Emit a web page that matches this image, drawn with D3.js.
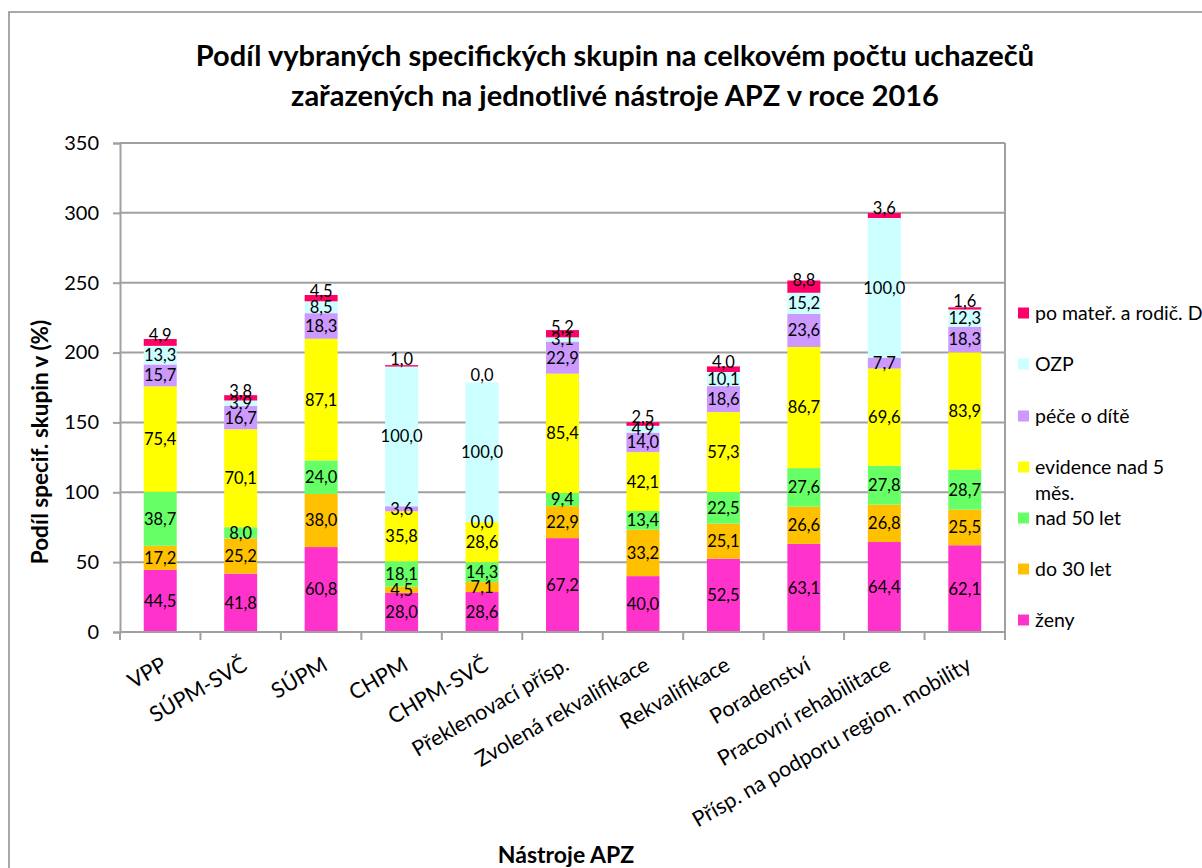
<!DOCTYPE html>
<html><head><meta charset="utf-8">
<script src="https://cdn.jsdelivr.net/npm/d3@7"></script>
<style>
html,body{margin:0;padding:0;background:#fff;}
svg{display:block;font-family:Lato,"Noto Sans",sans-serif;}
</style></head>
<body><svg id="c" width="1202" height="868"></svg>
<script>
const categories = ["VPP","SÚPM-SVČ","SÚPM","CHPM","CHPM-SVČ","Překlenovací přísp.","Zvolená rekvalifikace","Rekvalifikace","Poradenství","Pracovní rehabilitace","Přísp. na podporu region. mobility"];
const seriesNames = ["ženy","do 30 let","nad 50 let","evidence nad 5 měs.","péče o dítě","OZP","po mateř. a rodič. D"];
const zeny      = [44.5,41.8,60.8,28.0,28.6,67.2,40.0,52.5,63.1,64.4,62.1];
const do30      = [17.2,25.2,38.0,4.5,7.1,22.9,33.2,25.1,26.6,26.8,25.5];
const nad50     = [38.7,8.0,24.0,18.1,14.3,9.4,13.4,22.5,27.6,27.8,28.7];
const evidence  = [75.4,70.1,87.1,35.8,28.6,85.4,42.1,57.3,86.7,69.6,83.9];
const pece      = [15.7,16.7,18.3,3.6,0.0,22.9,14.0,18.6,23.6,7.7,18.3];
const ozp       = [13.3,3.9,8.5,100.0,100.0,3.1,4.9,10.1,15.2,100.0,12.3];
const materska  = [4.9,3.8,4.5,1.0,0.0,5.2,2.5,4.0,8.8,3.6,1.6];
const yTicks = [0,50,100,150,200,250,300,350];
const colors = ["#FF33CC","#FFC000","#66FF66","#FFFF00","#CC99FF","#CCFFFF","#FF0066"];
const seriesValues = [zeny,do30,nad50,evidence,pece,ozp,materska];

const svg = d3.select("#c");
const L=120,R=1005,T=143,B=632;
const x = d3.scaleBand().domain(categories).range([L,R]).paddingInner(0.59).paddingOuter(0.295);
const y = d3.scaleLinear().domain([0,350]).range([B,T]);
const grey="#A0A0A0";

// outer chart border
svg.append("rect").attr("x",9).attr("y",12).attr("width",1300).attr("height",900)
  .attr("fill","none").attr("stroke","#8c8c8c").attr("stroke-width",1.5);

// title
const title = svg.append("text").attr("text-anchor","middle").attr("font-weight","bold").attr("font-size",29).attr("fill","#000");
title.append("tspan").attr("x",615).attr("y",66).text("Podíl vybraných specifických skupin na celkovém počtu uchazečů");
title.append("tspan").attr("x",615).attr("y",106).text("zařazených na jednotlivé nástroje APZ v roce 2016");

// gridlines
svg.append("g").selectAll("line").data(yTicks.filter(d=>d>0)).join("line")
  .attr("x1",L).attr("x2",R).attr("y1",d=>y(d)).attr("y2",d=>y(d))
  .attr("stroke",grey).attr("stroke-width",2);
// right border of plot
svg.append("line").attr("x1",R).attr("x2",R).attr("y1",T).attr("y2",B).attr("stroke",grey).attr("stroke-width",2);

// y axis
const yAxis = d3.axisLeft(y).tickValues(yTicks).tickSize(7).tickPadding(14).tickFormat(d3.format("d"));
const gy = svg.append("g").attr("transform",`translate(${L},0)`).call(yAxis);
gy.select(".domain").attr("stroke",grey).attr("stroke-width",2);
gy.selectAll(".tick line").attr("stroke",grey).attr("stroke-width",2);
gy.selectAll(".tick text").attr("font-size",20).attr("font-family","Lato").attr("fill","#000");

// stacked data
const table = categories.map((c,i)=>{const o={cat:c}; seriesNames.forEach((s,j)=>o[s]=seriesValues[j][i]); return o;});
const stack = d3.stack().keys(seriesNames)(table);

const gBars = svg.append("g");
stack.forEach((layer,j)=>{
  gBars.append("g").attr("fill",colors[j]).selectAll("rect").data(layer).join("rect")
    .attr("x",d=>x(d.data.cat)).attr("width",x.bandwidth())
    .attr("y",d=>y(d[1])).attr("height",d=>y(d[0])-y(d[1]));
});

// x axis
svg.append("line").attr("x1",L).attr("x2",R).attr("y1",B).attr("y2",B).attr("stroke",grey).attr("stroke-width",2);
const step = x.step();
svg.append("g").selectAll("line").data(d3.range(categories.length+1)).join("line")
  .attr("x1",i=>L+i*step).attr("x2",i=>L+i*step).attr("y1",B).attr("y2",B+8)
  .attr("stroke",grey).attr("stroke-width",2);
svg.append("g").selectAll("text").data(categories).join("text")
  .attr("transform",d=>`translate(${x(d)+x.bandwidth()/2+8},${B+37}) rotate(-30)`)
  .attr("text-anchor","end").attr("font-size",21.5).attr("fill","#000").text(d=>d);

// labels
const fmt = v=>v.toFixed(1).replace(".",",");
const gl = svg.append("g").attr("font-size",16.5).attr("text-anchor","middle").attr("fill","#000");
stack.forEach((layer,j)=>{
  gl.append("g").selectAll("text").data(layer).join("text")
    .attr("x",d=>x(d.data.cat)+x.bandwidth()/2)
    .attr("y",d=>(y(d[0])+y(d[1]))/2 - (j===seriesNames.length-1?7:0))
    .attr("dy","0.36em").text(d=>fmt(d[1]-d[0]));
});

// axis titles
svg.append("text").attr("transform","translate(48,442) rotate(-90)").attr("text-anchor","middle")
  .attr("font-weight","bold").attr("font-size",22.5).text("Podíl specif. skupin v (%)");
svg.append("text").attr("x",566).attr("y",863).attr("text-anchor","middle")
  .attr("font-weight","bold").attr("font-size",23).text("Nástroje APZ");

// legend
const legendOrder = d3.range(seriesNames.length).reverse();
const lg = svg.append("g");
const legendY = [313,364,416,467,518,569,620];
legendOrder.forEach((j,k)=>{
  const cy = legendY[k];
  lg.append("rect").attr("x",1018).attr("y",cy-5.5).attr("width",11).attr("height",11).attr("fill",colors[j]);
  const t = lg.append("text").attr("font-size",19.5).attr("fill","#000");
  if(seriesNames[j]==="evidence nad 5 měs."){
    t.append("tspan").attr("x",1035).attr("y",cy).attr("dy","0.36em").text("evidence nad 5");
    t.append("tspan").attr("x",1035).attr("y",cy+26).attr("dy","0.36em").text("měs.");
  } else {
    t.append("tspan").attr("x",1035).attr("y",cy).attr("dy","0.36em").text(seriesNames[j]);
  }
});
</script></body></html>
